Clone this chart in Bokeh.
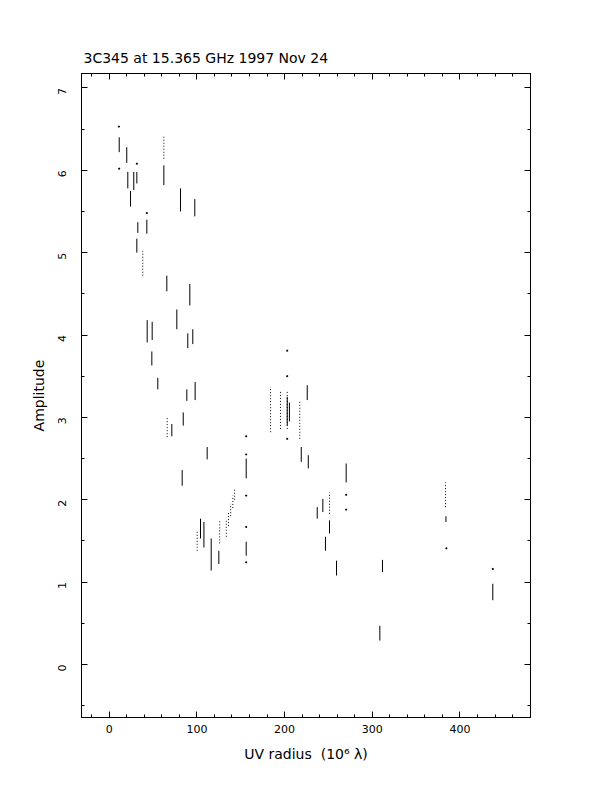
import math
from bokeh.plotting import figure
from bokeh.models import Range1d, LinearAxis, ColumnDataSource, SingleIntervalTicker, CustomLabelingPolicy
from bokeh.embed import file_html
from bokeh.resources import INLINE

# ---- data (UV radius in 10^6 lambda, amplitude) ----
# dense (solid) streaks of visibilities: x, low amplitude, high amplitude
solid_x  = [11.4, 20.0, 21.2, 28.0, 31.5, 24.3, 62.3, 81.3, 97.6, 42.9, 32.6, 31.5,
            65.7, 91.9, 77.1, 43.3, 49.0, 89.6, 95.3, 48.6, 55.4, 88.5, 98.0, 71.4,
            84.4, 111.7, 83.2, 156.2, 156.2, 104.1, 108.0, 116.3, 125.0, 203.0, 205.5,
            225.8, 219.0, 227.0, 270.2, 237.2, 243.6, 251.2, 246.6, 259.2, 311.6,
            308.6, 384.0, 437.4]
solid_lo = [6.22, 6.09, 5.78, 5.76, 5.84, 5.56, 5.82, 5.50, 5.44, 5.23, 5.24, 5.00,
            4.53, 4.36, 4.07, 3.91, 3.94, 3.84, 3.89, 3.63, 3.34, 3.20, 3.21, 2.77,
            2.90, 2.49, 2.17, 2.26, 1.32, 1.53, 1.42, 1.14, 1.22, 2.90, 2.95,
            3.21, 2.46, 2.38, 2.21, 1.77, 1.85, 1.59, 1.38, 1.08, 1.12,
            0.29, 1.73, 0.78]
solid_hi = [6.40, 6.28, 5.98, 5.98, 5.98, 5.75, 6.06, 5.78, 5.65, 5.40, 5.37, 5.17,
            4.72, 4.62, 4.31, 4.18, 4.16, 4.02, 4.07, 3.80, 3.48, 3.34, 3.43, 2.92,
            3.06, 2.64, 2.36, 2.50, 1.49, 1.77, 1.73, 1.53, 1.38, 3.25, 3.18,
            3.39, 2.64, 2.54, 2.44, 1.91, 2.01, 1.75, 1.55, 1.26, 1.27,
            0.47, 1.80, 0.98]

# sparse (dotted) streaks
dot_x  = [62.3, 38.3, 66.1, 133.5, 136.0, 138.5, 141.0, 143.0, 100.3, 126.0,
          184.0, 195.3, 203.0, 217.3, 251.2, 383.5]
dot_lo = [6.14, 4.72, 2.76, 1.55, 1.68, 1.80, 1.90, 2.00, 1.38, 1.47,
          2.82, 2.86, 2.86, 2.74, 1.83, 1.91]
dot_hi = [6.43, 5.02, 3.00, 1.75, 1.85, 1.95, 2.05, 2.13, 1.63, 1.75,
          3.37, 3.33, 3.31, 3.21, 2.09, 2.21]

# isolated visibilities
pt_x = [11.0, 11.4, 31.5, 42.9, 156.2, 156.2, 156.2, 156.2, 156.2, 203.0, 203.0,
        203.0, 270.2, 270.2, 384.5, 437.4]
pt_y = [6.53, 6.02, 6.08, 5.48, 2.55, 2.77, 1.67, 1.24, 2.05, 3.81, 3.50,
        2.74, 2.06, 1.88, 1.41, 1.16]

title_text = "3C345 at 15.365 GHz 1997 Nov 24"
x_label = "UV radius\u00a0\u00a0(10\u2076 \u03bb)"
y_label = "Amplitude"

FONT = "DejaVu Sans"

p = figure(frame_width=449, frame_height=644,
           x_range=Range1d(-31.6, 480.4), y_range=Range1d(-0.644, 7.175),
           output_backend="svg", toolbar_location=None,
           min_border_left=81, min_border_right=74, min_border_top=73, min_border_bottom=67,
           x_axis_label=x_label, y_axis_label=y_label)

p.title.text = title_text
p.title.text_font = FONT
p.title.text_font_size = "14px"
p.title.text_font_style = "normal"
p.title.text_color = "black"
p.title.align = "left"
p.title.offset = 2
p.title.standoff = -7

p.grid.visible = False
p.outline_line_color = "black"
p.outline_line_width = 1
p.background_fill_color = "white"
p.border_fill_color = "white"

p.xaxis.ticker = SingleIntervalTicker(interval=100, num_minor_ticks=5)
p.yaxis.ticker = SingleIntervalTicker(interval=1, num_minor_ticks=2)
p.yaxis.major_label_orientation = math.pi / 2

for ax in (p.xaxis[0], p.yaxis[0]):
    ax.major_tick_in = 6
    ax.major_tick_out = 0
    ax.minor_tick_in = 3
    ax.minor_tick_out = 0
    ax.axis_line_color = "black"
    ax.major_tick_line_color = "black"
    ax.minor_tick_line_color = "black"
    ax.major_label_text_font = FONT
    ax.major_label_text_font_size = "11px"
    ax.major_label_text_color = "black"
    ax.axis_label_text_font = FONT
    ax.axis_label_text_font_size = "14px"
    ax.axis_label_text_font_style = "normal"
    ax.axis_label_text_color = "black"

p.xaxis.major_label_standoff = 7
p.xaxis.axis_label_standoff = 10
p.yaxis.major_label_standoff = 19
p.yaxis.axis_label_standoff = 5

hide_labels = CustomLabelingPolicy(code="""
    for (const i of indices)
        indices.unset(i)
""")

for loc, tk in (("above", SingleIntervalTicker(interval=100, num_minor_ticks=5)),
                ("right", SingleIntervalTicker(interval=1, num_minor_ticks=2))):
    ax = LinearAxis(ticker=tk, major_label_policy=hide_labels)
    ax.major_tick_in = 6
    ax.major_tick_out = 0
    ax.minor_tick_in = 3
    ax.minor_tick_out = 0
    ax.major_label_standoff = 0
    ax.axis_line_color = "black"
    p.add_layout(ax, loc)

src_s = ColumnDataSource(dict(x=solid_x, lo=solid_lo, hi=solid_hi))
src_d = ColumnDataSource(dict(x=dot_x, lo=dot_lo, hi=dot_hi))
src_p = ColumnDataSource(dict(x=pt_x, y=pt_y))

p.segment(x0="x", y0="lo", x1="x", y1="hi", source=src_s, line_color="black", line_width=1)
p.segment(x0="x", y0="lo", x1="x", y1="hi", source=src_d, line_color="black", line_width=1,
          line_dash="1 2")
p.scatter(x="x", y="y", source=src_p, marker="square", size=1, color="black")

open("out.html", "w").write(file_html(p, INLINE))
